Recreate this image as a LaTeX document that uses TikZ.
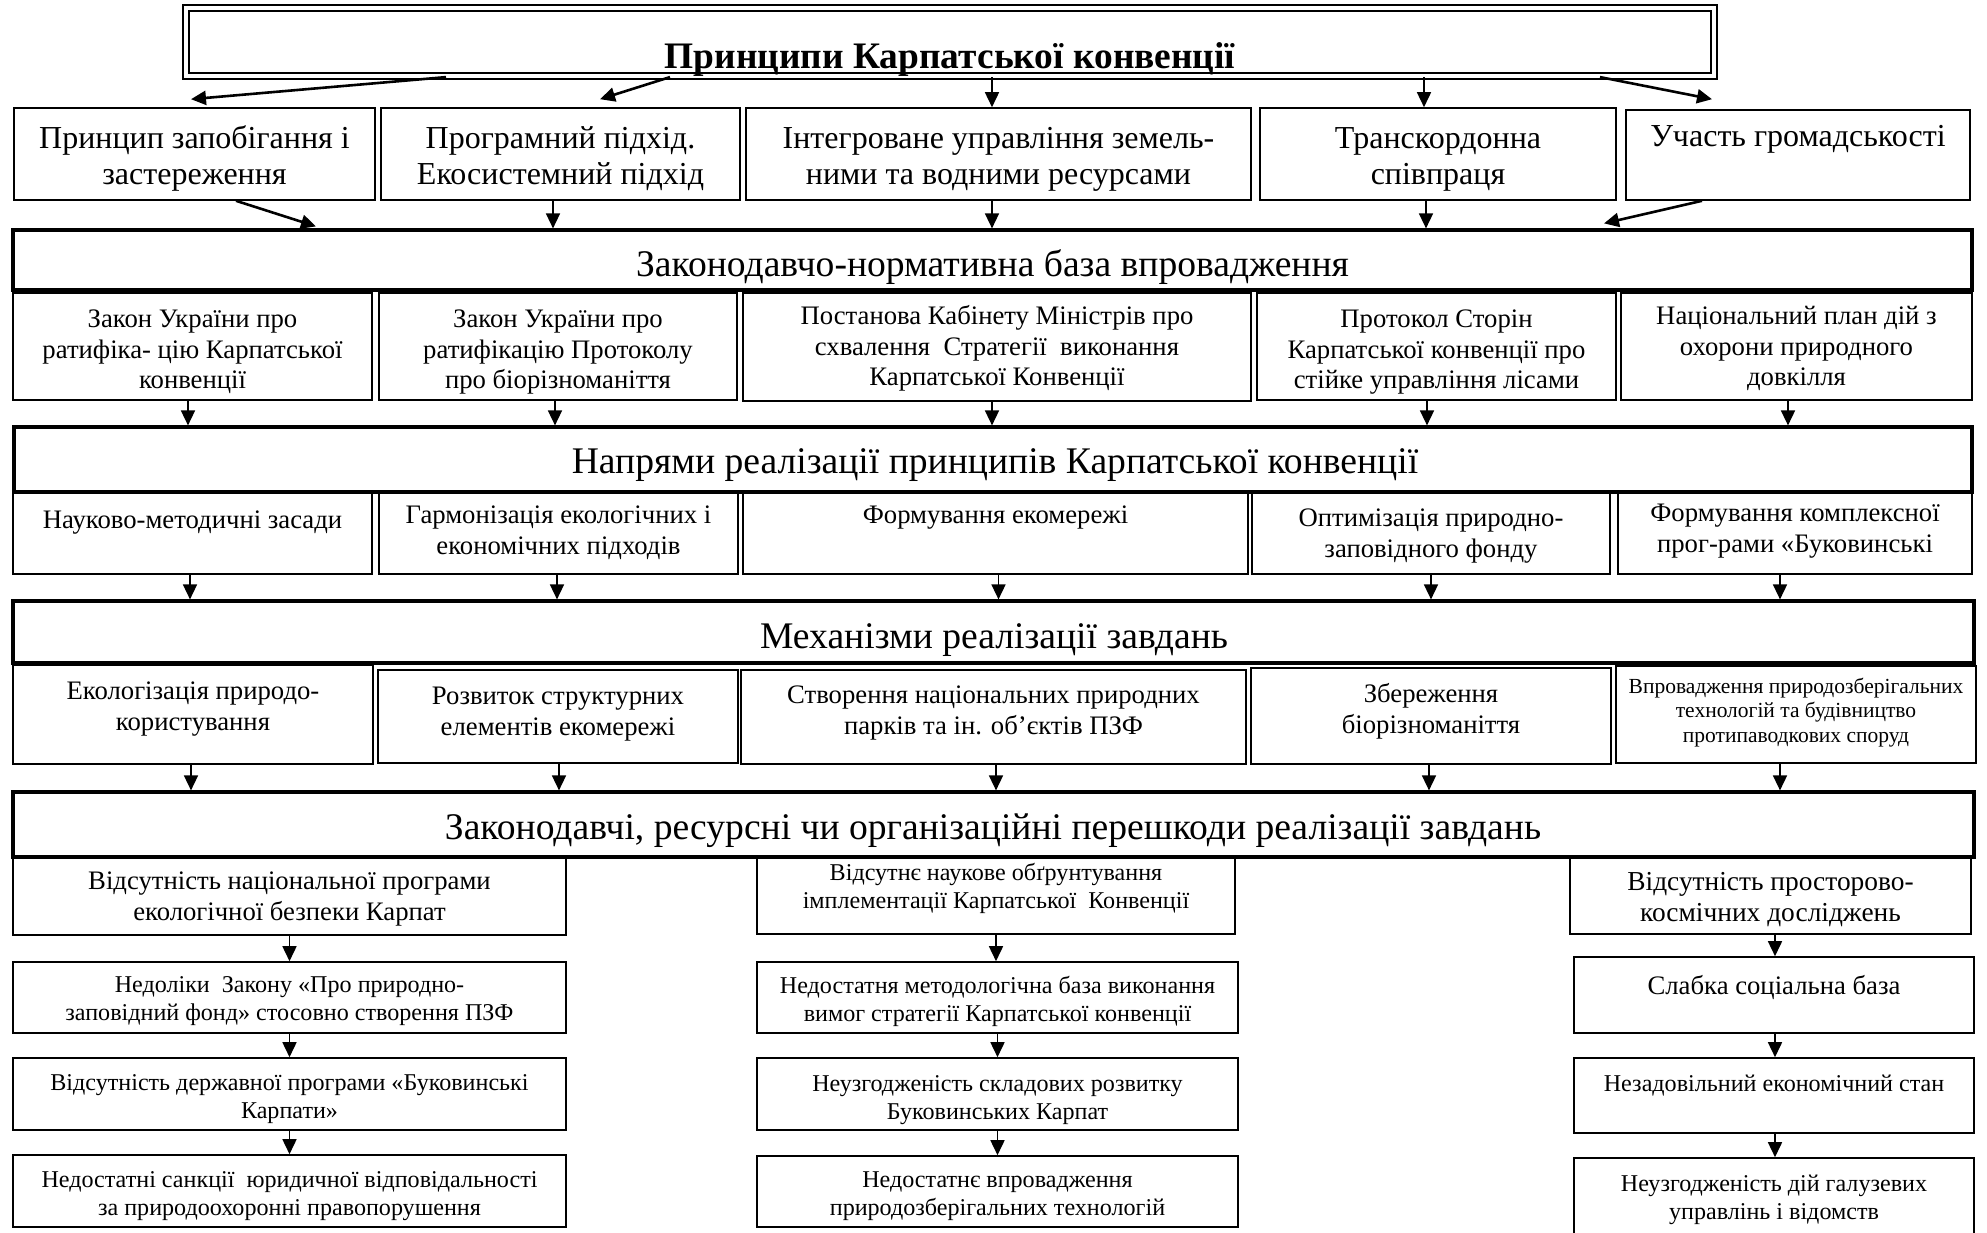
\documentclass[tikz,border=0pt]{standalone}
\usepackage{fontspec}
\setmainfont{Liberation Serif}
\usetikzlibrary{arrows.meta}
\newcommand\zs{\strut}
\newcommand\bx[6][box]{\node[#1, minimum width={(#5-#3)*0.5pt}, minimum height={(#6-#4)*0.5pt}] (#2) at ({(#3+#5)/2},{(#4+#6)/2}) {};}
\tikzset{
  box/.style={draw, line width=0.8pt, inner sep=0pt, rectangle},
  barbox/.style={draw, line width=1.6pt, inner sep=0pt, rectangle},
  ttl/.style={draw, double, line width=1.1pt, double distance=1.6pt, inner sep=0pt, rectangle},
  txt/.style={inner sep=0pt, align=center},
  fA/.style={font=\fontsize{16}{18.3}\selectfont},
  fB/.style={font=\fontsize{18.8}{22}\selectfont},
  fC/.style={font=\fontsize{13.35}{15.3}\selectfont},
  fR/.style={font=\fontsize{13.7}{15.3}\selectfont},
  fD/.style={font=\fontsize{10.75}{12.3}\selectfont},
  fE/.style={font=\fontsize{12.05}{14}\selectfont},
  fT/.style={font=\fontsize{18.7}{22}\selectfont\bfseries},
  arr/.style={line width=0.8pt, -{Triangle[length=7.5pt,width=7pt]}},
  darr/.style={line width=1.3pt, -{Triangle[length=7.5pt,width=7pt]}},
}
\begin{document}
\begin{tikzpicture}[x=0.5pt,y=-0.5pt]
\useasboundingbox (0,0) rectangle (1987,1232);
% title
\bx[ttl]{title}{186}{8}{1714}{76}
\node[txt, fT, anchor=base] (titlet) at (950,68) {Принципи Карпатської конвенції};
% row 1
\bx{b1}{14}{108}{375}{200}
\bx{b2}{381}{108}{740}{200}
\bx{b3}{746}{108}{1251}{200}
\bx{b4}{1260}{108}{1616}{200}
\bx{b5}{1626}{110}{1970}{200}
\node[txt,fA] (t1) at (194.5,159) {\zs Принцип запобігання і\\\zs застереження};
\node[txt,fA] (t2) at (560.5,159) {\zs Програмний підхід.\\\zs Екосистемний підхід};
\node[txt,fA] (t3) at (998.5,159) {\zs Інтегроване управління земель-\\\zs ними та водними ресурсами};
\node[txt,fA] (t4) at (1438,159) {\zs Транскордонна\\\zs співпраця};
\node[txt,fA] (t5) at (1798,139) {\zs Участь громадськості};
\draw[darr] ([xshift=-252pt]title.south) -- ([xshift=-1.75pt,yshift=4pt]b1.north);
\draw[darr] ([xshift=-140pt]title.south) -- ([xshift=19.75pt,yshift=4pt]b2.north);
\draw[arr] ([xshift=21pt]title.south) -- ([xshift=21pt]title.south |- b3.north);
\draw[arr] ([xshift=237pt]title.south) -- ([xshift=237pt]title.south |- b4.north);
\draw[darr] ([xshift=325pt]title.south) -- ([xshift=-43pt,yshift=5pt]b5.north);
% bar 1
\bx[barbox]{bar1}{13}{230}{1972}{290}
\node[txt,fB,anchor=base] (bar1t) at (992.5,276) {Законодавчо-нормативна база впровадження};
\draw[darr] ([xshift=20.75pt]b1.south) -- ([xshift=-338.25pt,yshift=1pt]bar1.north);
\draw[arr] ([xshift=-3.75pt]b2.south) -- ([xshift=-3.75pt]b2.south |- bar1.north);
\draw[arr] ([xshift=-3.25pt]b3.south) -- ([xshift=-3.25pt]b3.south |- bar1.north);
\draw[arr] ([xshift=-6pt]b4.south) -- ([xshift=-6pt]b4.south |- bar1.north);
\draw[darr] ([xshift=-48pt]b5.south) -- ([xshift=305.75pt,yshift=2.5pt]bar1.north);
% row 2
\bx{r2a}{13}{293}{372}{400}
\bx{r2b}{379}{293}{737}{400}
\bx{r2c}{743}{293}{1251}{401}
\bx{r2d}{1257}{293}{1616}{400}
\bx{r2e}{1621}{293}{1972}{400}
\node[txt,fC] (u1) at (192.5,352) {\zs Закон України про\\\zs ратифіка- цію Карпатської\\\zs конвенції};
\node[txt,fC] (u2) at (558,352) {\zs Закон України про\\\zs ратифікацію Протоколу\\\zs про біорізноманіття};
\node[txt,fC] (u3) at (997,349) {\zs Постанова Кабінету Міністрів про\\\zs схвалення\ \ Стратегії\ \ виконання\\\zs Карпатської Конвенції};
\node[txt,fC] (u4) at (1436.5,352) {\zs Протокол Сторін\\\zs Карпатської конвенції про\\\zs стійке управління лісами};
\node[txt,fC] (u5) at (1796.5,349) {\zs Національний план дій з\\\zs охорони природного\\\zs довкілля};
% bar 2
\bx[barbox]{bar2}{14}{427}{1972}{492}
\node[txt,fB,anchor=base] (bar2t) at (995,473) {Напрями реалізації принципів Карпатської конвенції};
\draw[arr] ([xshift=-2.25pt]r2a.south) -- ([xshift=-2.25pt]r2a.south |- bar2.north);
\draw[arr] ([xshift=-1.5pt]r2b.south) -- ([xshift=-1.5pt]r2b.south |- bar2.north);
\draw[arr] ([xshift=-2.5pt]r2c.south) -- ([xshift=-2.5pt]r2c.south |- bar2.north);
\draw[arr] ([xshift=-4.75pt]r2d.south) -- ([xshift=-4.75pt]r2d.south |- bar2.north);
\draw[arr] ([xshift=-4.25pt]r2e.south) -- ([xshift=-4.25pt]r2e.south |- bar2.north);
% row 3
\bx{r3a}{13}{493}{372}{574}
\bx{r3b}{379}{493}{738}{574}
\bx{r3c}{743}{493}{1248}{574}
\bx{r3d}{1252}{493}{1610}{574}
\bx{r3e}{1618}{493}{1972}{574}
\node[txt,fC] (v1) at (192.5,522) {\zs Науково-методичні засади};
\node[txt,fC] (v2) at (558.5,533) {\zs Гармонізація екологічних і\\\zs економічних підходів};
\node[txt,fC] (v3) at (995.5,517) {\zs Формування екомережі};
\node[txt,fC] (v4) at (1431,536) {\zs Оптимізація природно-\\\zs заповідного фонду};
\node[txt,fC] (v5) at (1795,531) {\zs Формування комплексної\\\zs прог-рами «Буковинські};
% bar 3
\bx[barbox]{bar3}{13}{601}{1974}{663}
\node[txt,fB,anchor=base] (bar3t) at (994,648) {Механізми реалізації завдань};
\draw[arr] ([xshift=-1.25pt]r3a.south) -- ([xshift=-1.25pt]r3a.south |- bar3.north);
\draw[arr] ([xshift=-0.75pt]r3b.south) -- ([xshift=-0.75pt]r3b.south |- bar3.north);
\draw[arr] ([xshift=1.5pt]r3c.south) -- ([xshift=1.5pt]r3c.south |- bar3.north);
\draw[arr] (r3d.south) -- (r3d.south |- bar3.north);
\draw[arr] ([xshift=-7.5pt]r3e.south) -- ([xshift=-7.5pt]r3e.south |- bar3.north);
% row 4
\bx{r4a}{13}{665}{373}{764}
\bx{r4b}{378}{670}{738}{763}
\bx{r4c}{741}{670}{1246}{764}
\bx{r4d}{1251}{668}{1611}{764}
\bx{r4e}{1616}{666}{1976}{763}
\node[txt,fC] (w1) at (193,709) {\zs Екологізація природо-\\\zs користування};
\node[txt,fC] (w2) at (558,714) {\zs Розвиток структурних\\\zs елементів екомережі};
\node[txt,fC] (w3) at (993.5,713) {\zs Створення національних природних\\\zs парків та ін. об’єктів ПЗФ};
\node[txt,fC] (w4) at (1431,712) {\zs Збереження\\\zs біорізноманіття};
\node[txt,fD] (w5) at (1796,713) {\zs Впровадження природозберігальних\\\zs технологій та будівництво\\\zs протипаводкових споруд};
% bar 4
\bx[barbox]{bar4}{13}{792}{1974}{857}
\node[txt,fB,anchor=base] (bar4t) at (993,839) {Законодавчі, ресурсні чи організаційні перешкоди реалізації завдань};
\draw[arr] ([xshift=-1pt]r4a.south) -- ([xshift=-1pt]r4a.south |- bar4.north);
\draw[arr] ([xshift=0.5pt]r4b.south) -- ([xshift=0.5pt]r4b.south |- bar4.north);
\draw[arr] ([xshift=1.25pt]r4c.south) -- ([xshift=1.25pt]r4c.south |- bar4.north);
\draw[arr] ([xshift=-1pt]r4d.south) -- ([xshift=-1pt]r4d.south |- bar4.north);
\draw[arr] ([xshift=-8pt]r4e.south) -- ([xshift=-8pt]r4e.south |- bar4.north);
% left column
\bx{L1}{13}{858}{566}{935}
\bx{L2}{13}{962}{566}{1033}
\bx{L3}{13}{1058}{566}{1130}
\bx{L4}{13}{1155}{566}{1227}
\node[txt,fC] (l1) at (289.5,899) {\zs Відсутність національної програми\\\zs екологічної безпеки Карпат};
\node[txt,fE] (l2) at (289.5,1001) {\zs Недоліки\ \ Закону «Про природно-\\\zs заповідний фонд» стосовно створення ПЗФ};
\node[txt,fE] (l3) at (289.5,1099) {\zs Відсутність державної програми «Буковинські\\\zs Карпати»};
\node[txt,fE] (l4) at (289.5,1196) {\zs Недостатні санкції\ \ юридичної відповідальності\\\zs за природоохоронні правопорушення};
\draw[arr] (L1) -- (L2);
\draw[arr] (L2) -- (L3);
\draw[arr] (L3) -- (L4);
% middle column
\bx{M1}{757}{858}{1235}{934}
\bx{M2}{757}{962}{1238}{1033}
\bx{M3}{757}{1058}{1238}{1130}
\bx{M4}{757}{1156}{1238}{1227}
\node[txt,fE] (m1) at (996,889) {\zs Відсутнє наукове обґрунтування\\\zs імплементації Карпатської\ \ Конвенції};
\node[txt,fE] (m2) at (997.5,1002) {\zs Недостатня методологічна база виконання\\\zs вимог стратегії Карпатської конвенції};
\node[txt,fE] (m3) at (997.5,1100) {\zs Неузгодженість складових розвитку\\\zs Буковинських Карпат};
\node[txt,fE] (m4) at (997.5,1196) {\zs Недостатнє впровадження\\\zs природозберігальних технологій};
\draw[arr] (M1.south) -- (M1.south |- M2.north);
\draw[arr] (M2.south) -- (M2.south |- M3.north);
\draw[arr] (M3.south) -- (M3.south |- M4.north);
% right column
\bx{R1}{1570}{858}{1971}{934}
\bx{R2}{1574}{957}{1974}{1033}
\bx{R3}{1574}{1058}{1974}{1133}
\bx{R4}{1574}{1158}{1974}{1260}
\node[txt,fR] (s1) at (1770.5,900) {\zs Відсутність просторово-\\\zs космічних досліджень};
\node[txt,fC] (s2) at (1774,988) {\zs Слабка соціальна база};
\node[txt,fE] (s3) at (1774,1086) {\zs Незадовільний економічний стан};
\node[txt,fE] (s4) at (1774,1200) {\zs Неузгодженість дій галузевих\\\zs управлінь і відомств};
\draw[arr] ([xshift=2.25pt]R1.south) -- ([xshift=2.25pt]R1.south |- R2.north);
\draw[arr] ([xshift=0.5pt]R2.south) -- ([xshift=0.5pt]R2.south |- R3.north);
\draw[arr] ([xshift=0.5pt]R3.south) -- ([xshift=0.5pt]R3.south |- R4.north);
\end{tikzpicture}
\end{document}
